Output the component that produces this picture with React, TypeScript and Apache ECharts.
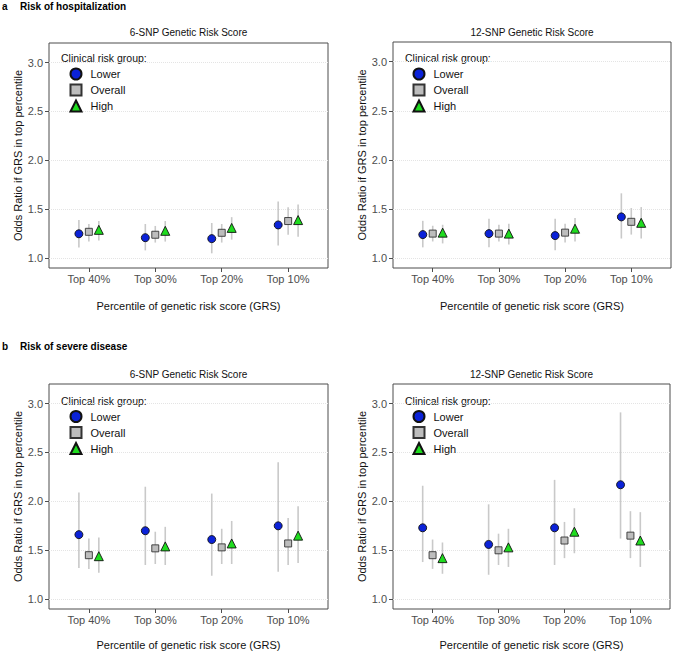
import React, { useEffect, useRef } from "react";
import * as echarts from "echarts";

const categories = ["Top 40%", "Top 30%", "Top 20%", "Top 10%"];
const groups = ["Lower", "Overall", "High"];
const yTicks = [1.0, 1.5, 2.0, 2.5, 3.0];

// Risk of hospitalization, 6-SNP
const hosp6Lower = [1.25, 1.21, 1.2, 1.34];
const hosp6LowerLo = [1.11, 1.08, 1.05, 1.13];
const hosp6LowerHi = [1.39, 1.35, 1.36, 1.58];
const hosp6Overall = [1.27, 1.24, 1.26, 1.38];
const hosp6OverallLo = [1.17, 1.16, 1.16, 1.24];
const hosp6OverallHi = [1.35, 1.33, 1.35, 1.52];
const hosp6High = [1.29, 1.28, 1.31, 1.39];
const hosp6HighLo = [1.18, 1.17, 1.19, 1.22];
const hosp6HighHi = [1.38, 1.38, 1.42, 1.55];

// Risk of hospitalization, 12-SNP
const hosp12Lower = [1.24, 1.25, 1.23, 1.42];
const hosp12LowerLo = [1.11, 1.11, 1.08, 1.2];
const hosp12LowerHi = [1.38, 1.4, 1.4, 1.66];
const hosp12Overall = [1.25, 1.25, 1.26, 1.37];
const hosp12OverallLo = [1.17, 1.17, 1.16, 1.24];
const hosp12OverallHi = [1.33, 1.34, 1.35, 1.51];
const hosp12High = [1.26, 1.25, 1.3, 1.36];
const hosp12HighLo = [1.15, 1.14, 1.17, 1.2];
const hosp12HighHi = [1.34, 1.35, 1.41, 1.52];

// Risk of severe disease, 6-SNP
const sev6Lower = [1.66, 1.7, 1.61, 1.75];
const sev6LowerLo = [1.32, 1.35, 1.24, 1.28];
const sev6LowerHi = [2.09, 2.15, 2.08, 2.4];
const sev6Overall = [1.45, 1.52, 1.53, 1.57];
const sev6OverallLo = [1.31, 1.36, 1.36, 1.35];
const sev6OverallHi = [1.62, 1.69, 1.72, 1.83];
const sev6High = [1.44, 1.54, 1.57, 1.65];
const sev6HighLo = [1.27, 1.35, 1.36, 1.37];
const sev6HighHi = [1.63, 1.74, 1.8, 1.95];

// Risk of severe disease, 12-SNP
const sev12Lower = [1.73, 1.56, 1.73, 2.17];
const sev12LowerLo = [1.38, 1.25, 1.35, 1.62];
const sev12LowerHi = [2.16, 1.97, 2.22, 2.91];
const sev12Overall = [1.45, 1.5, 1.6, 1.65];
const sev12OverallLo = [1.31, 1.35, 1.42, 1.42];
const sev12OverallHi = [1.61, 1.67, 1.79, 1.9];
const sev12High = [1.42, 1.53, 1.69, 1.6];
const sev12HighLo = [1.26, 1.33, 1.47, 1.33];
const sev12HighHi = [1.58, 1.72, 1.93, 1.89];

const panelTitles = [
  "6-SNP Genetic Risk Score",
  "12-SNP Genetic Risk Score",
  "6-SNP Genetic Risk Score",
  "12-SNP Genetic Risk Score",
];

const panels = [
  {
    or: [hosp6Lower, hosp6Overall, hosp6High],
    lo: [hosp6LowerLo, hosp6OverallLo, hosp6HighLo],
    hi: [hosp6LowerHi, hosp6OverallHi, hosp6HighHi],
  },
  {
    or: [hosp12Lower, hosp12Overall, hosp12High],
    lo: [hosp12LowerLo, hosp12OverallLo, hosp12HighLo],
    hi: [hosp12LowerHi, hosp12OverallHi, hosp12HighHi],
  },
  {
    or: [sev6Lower, sev6Overall, sev6High],
    lo: [sev6LowerLo, sev6OverallLo, sev6HighLo],
    hi: [sev6LowerHi, sev6OverallHi, sev6HighHi],
  },
  {
    or: [sev12Lower, sev12Overall, sev12High],
    lo: [sev12LowerLo, sev12OverallLo, sev12HighLo],
    hi: [sev12LowerHi, sev12OverallHi, sev12HighHi],
  },
];

const FONT = "'Liberation Sans', Arial, Helvetica, sans-serif";
const dodge = [-0.15, 0, 0.15];
const symbols = ["circle", "rect", "triangle"];
const symbolSizes = [8, 7, 9];
const fills = ["#0b22d8", "#bdbdbd", "#1fdc1f"];
const strokes = ["#111111", "#333333", "#111111"];

const gridBoxes = [
  { left: 49, top: 43, width: 279, height: 225 },
  { left: 393, top: 42, width: 278, height: 226 },
  { left: 49, top: 384, width: 279, height: 225 },
  { left: 393, top: 384, width: 277, height: 225 },
];

export default function App() {
  const ref = useRef<HTMLDivElement>(null);
  useEffect(() => {
    document.body.style.margin = "0";
    if (!ref.current) return;
    const chart = echarts.init(ref.current, undefined, { renderer: "svg" });

    const grid = gridBoxes.map((g) => ({
      ...g,
      show: true,
      borderColor: "#4d4d4d",
      borderWidth: 1,
      backgroundColor: "#ffffff",
      containLabel: false,
    }));

    const xAxis = gridBoxes.map((g, i) => ({
      type: "value",
      gridIndex: i,
      min: 0.4,
      max: 4.6,
      axisLine: { show: false },
      splitLine: { show: false },
      axisTick: {
        show: true,
        customValues: [1, 2, 3, 4],
        length: 4,
        lineStyle: { color: "#4d4d4d" },
      },
      axisLabel: {
        customValues: [1, 2, 3, 4],
        formatter: (v: number) => categories[Math.round(v) - 1] ?? "",
        color: "#4d4d4d",
        fontFamily: FONT,
        fontSize: 11,
        margin: 5,
      },
      name: "Percentile of genetic risk score (GRS)",
      nameLocation: "middle",
      nameGap: i < 2 ? 32 : 30,
      nameTextStyle: { color: "#111", fontFamily: FONT, fontSize: 11 },
    }));

    const yAxis = gridBoxes.map((g, i) => ({
      type: "value",
      gridIndex: i,
      min: 0.9,
      max: 3.2,
      axisLine: { show: false },
      splitLine: {
        show: true,
        lineStyle: { color: "#e4e4e4", type: "dotted", width: 1 },
      },
      axisTick: {
        show: true,
        customValues: yTicks,
        length: 4,
        lineStyle: { color: "#4d4d4d" },
      },
      axisLabel: {
        customValues: yTicks,
        formatter: (v: number) => v.toFixed(1),
        color: "#4d4d4d",
        fontFamily: FONT,
        fontSize: 11,
        margin: 6,
      },
      name: "Odds Ratio if GRS in top percentile",
      nameLocation: "middle",
      nameGap: 24,
      nameTextStyle: { color: "#111", fontFamily: FONT, fontSize: 11 },
    }));

    const series: any[] = [];
    panels.forEach((p, pi) => {
      const barData: number[][] = [];
      groups.forEach((_, gi) => {
        categories.forEach((_, ci) => {
          barData.push([ci + 1 + dodge[gi], p.lo[gi][ci], p.hi[gi][ci]]);
        });
      });
      series.push({
        type: "custom",
        xAxisIndex: pi,
        yAxisIndex: pi,
        silent: true,
        z: 1,
        encode: { x: 0, y: [1, 2] },
        data: barData,
        renderItem: (params: any, api: any) => {
          const x = api.value(0);
          const p1 = api.coord([x, api.value(1)]);
          const p2 = api.coord([x, api.value(2)]);
          return {
            type: "line",
            shape: { x1: p1[0], y1: p1[1], x2: p2[0], y2: p2[1] },
            style: { stroke: "#c9c9c9", lineWidth: 1.6 },
          };
        },
      });
      groups.forEach((g, gi) => {
        series.push({
          type: "scatter",
          name: g,
          xAxisIndex: pi,
          yAxisIndex: pi,
          z: 3,
          symbol: symbols[gi],
          symbolSize: symbolSizes[gi],
          itemStyle: {
            color: fills[gi],
            borderColor: strokes[gi],
            borderWidth: 0.9,
            opacity: 1,
          },
          data: categories.map((_, ci) => [ci + 1 + dodge[gi], p.or[gi][ci]]),
        });
      });
    });

    const legendPos = [
      { left: 69.5, top: 67.5 },
      { left: 412.5, top: 67.5 },
      { left: 69.5, top: 410 },
      { left: 412.5, top: 410 },
    ];
    const legend = legendPos.map((lp) => ({
      ...lp,
      orient: "vertical",
      padding: 0,
      data: groups,
      itemWidth: 11,
      itemHeight: 11,
      itemGap: 3,
      selectedMode: false,
      textStyle: {
        fontFamily: FONT,
        fontSize: 11,
        color: "#111",
        lineHeight: 12,
        padding: [0, 0, 0, 4],
      },
    }));

    const graphic: any[] = [
      { type: "text", left: 2, top: 1, style: { text: "a", font: `bold 10px ${FONT}`, fill: "#000" } },
      { type: "text", left: 20, top: 1, style: { text: "Risk of hospitalization", font: `bold 10px ${FONT}`, fill: "#000" } },
      { type: "text", left: 2, top: 341, style: { text: "b", font: `bold 10px ${FONT}`, fill: "#000" } },
      { type: "text", left: 20, top: 341, style: { text: "Risk of severe disease", font: `bold 10px ${FONT}`, fill: "#000" } },
    ];
    gridBoxes.forEach((g, i) => {
      graphic.push({
        type: "text",
        x: g.left + g.width / 2,
        y: i < 2 ? 32 : 374,
        style: {
          text: panelTitles[i],
          font: `10px ${FONT}`,
          fill: "#111",
          textAlign: "center",
          textVerticalAlign: "middle",
        },
      });
      graphic.push({
        type: "text",
        x: g.left + 12,
        y: i < 2 ? 58 : 401,
        style: {
          text: "Clinical risk group:",
          font: `10.5px ${FONT}`,
          fill: "#111",
          textAlign: "left",
          textVerticalAlign: "middle",
        },
      });
    });

    chart.setOption({
      animation: false,
      backgroundColor: "#ffffff",
      grid,
      xAxis,
      yAxis,
      legend,
      series,
      graphic,
    });
    return () => chart.dispose();
  }, []);
  return <div ref={ref} style={{ width: 675, height: 652 }} />;
}
